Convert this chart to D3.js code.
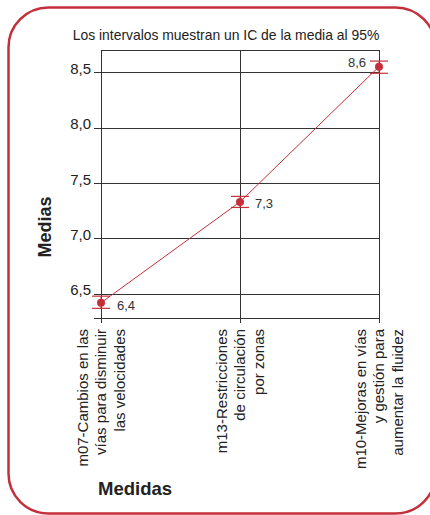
<!DOCTYPE html>
<html>
<head>
<meta charset="utf-8">
<script src="https://cdn.jsdelivr.net/npm/d3@7/dist/d3.min.js"></script>
<style>
  html, body { margin: 0; padding: 0; background: #fff; }
  svg { display: block; }
  text { font-family: "Liberation Sans", Arial, Helvetica, sans-serif; fill: #222; }
</style>
</head>
<body>
<div id="chart"></div>
<script>
// ---- data ----
const categories = ["m07", "m13", "m10"];
const categoryLines = [
  ["m07-Cambios en las", "vías para disminuir", "las velocidades"],
  ["m13-Restricciones", "de circulación", "por zonas"],
  ["m10-Mejoras en vías", "y gestión para", "aumentar la fluidez"]
];
const means = [6.42, 7.33, 8.55];
const ciLower = [6.37, 7.28, 8.49];
const ciUpper = [6.48, 7.38, 8.60];
const valueLabels = ["6,4", "7,3", "8,6"];
const yTicks = [6.5, 7.0, 7.5, 8.0, 8.5];
const yTickLabels = ["6,5", "7,0", "7,5", "8,0", "8,5"];
const title = "Los intervalos muestran un IC de la media al 95%";
const xTitle = "Medidas";
const yTitle = "Medias";

// ---- layout ----
const W = 430, H = 515;
const red = "#c3303b";
const plot = { left: 101, right: 379, top: 50, bottom: 318 };

const svg = d3.select("#chart").append("svg").attr("width", W).attr("height", H);

// frame
svg.append("rect")
  .attr("x", 8.5).attr("y", 7.5).attr("width", 427).attr("height", 506)
  .attr("rx", 40).attr("ry", 40)
  .attr("fill", "none").attr("stroke", red).attr("stroke-width", 2.5);

const x = d3.scalePoint().domain(categories).range([plot.left, plot.right]).padding(0);
const y = d3.scaleLinear().domain([6.283, 8.70]).range([plot.bottom, plot.top]);

// title
svg.append("text")
  .attr("x", 226).attr("y", 40)
  .attr("text-anchor", "middle")
  .style("font-size", "13.9px")
  .text(title);

// horizontal grid lines (ticks + top and bottom)
const g = svg.append("g");
const hLines = [y.domain()[1], ...yTicks, y.domain()[0]];
g.selectAll("line.h").data(hLines).enter().append("line")
  .attr("class", "h")
  .attr("x1", (d, i) => (i === 0 ? plot.left : plot.left - 7))
  .attr("x2", plot.right)
  .attr("y1", d => Math.round(y(d)) + 0.5)
  .attr("y2", d => Math.round(y(d)) + 0.5)
  .attr("stroke", "#333").attr("stroke-width", 1);

// vertical lines at categories
g.selectAll("line.v").data(categories).enter().append("line")
  .attr("class", "v")
  .attr("x1", d => Math.round(x(d)) + 0.5)
  .attr("x2", d => Math.round(x(d)) + 0.5)
  .attr("y1", plot.top)
  .attr("y2", plot.bottom + 5)
  .attr("stroke", "#333").attr("stroke-width", 1);

// y tick labels
svg.selectAll("text.ytick").data(yTicks).enter().append("text")
  .attr("class", "ytick")
  .attr("x", plot.left - 10)
  .attr("y", d => y(d))
  .attr("dy", "0.1em")
  .attr("text-anchor", "end")
  .style("font-size", "15px")
  .text((d, i) => yTickLabels[i]);

// category labels (rotated, 3 lines)
categories.forEach((c, ci) => {
  const t = svg.append("text")
    .attr("transform", `translate(${x(c)},329) rotate(-90)`)
    .attr("text-anchor", "end")
    .style("font-size", "15px");
  categoryLines[ci].forEach((ln, li) => {
    t.append("tspan")
      .attr("x", 0)
      .attr("y", (li - 1) * 18.5)
      .attr("dy", "0.35em")
      .text(ln);
  });
});

// axis titles
svg.append("text")
  .attr("transform", `translate(51,227) rotate(-90)`)
  .attr("text-anchor", "middle")
  .style("font-size", "18px").style("font-weight", "bold")
  .text(yTitle);
svg.append("text")
  .attr("x", 98).attr("y", 495)
  .style("font-size", "18.5px").style("font-weight", "bold")
  .text(xTitle);

// connecting line
const line = d3.line().x((d, i) => x(categories[i])).y(d => y(d));
svg.append("path")
  .attr("d", line(means))
  .attr("fill", "none").attr("stroke", red).attr("stroke-width", 1);

// error bars
const eb = svg.append("g");
categories.forEach((c, i) => {
  const cx = x(c);
  eb.append("line").attr("x1", cx).attr("x2", cx)
    .attr("y1", y(ciLower[i])).attr("y2", y(ciUpper[i]))
    .attr("stroke", red).attr("stroke-width", 1);
  [ciLower[i], ciUpper[i]].forEach(v => {
    eb.append("line").attr("x1", cx - 9).attr("x2", cx + 9)
      .attr("y1", y(v)).attr("y2", y(v))
      .attr("stroke", red).attr("stroke-width", 1.2);
  });
});

// points
svg.selectAll("circle.pt").data(means).enter().append("circle")
  .attr("class", "pt")
  .attr("cx", (d, i) => x(categories[i]))
  .attr("cy", d => y(d))
  .attr("r", 4)
  .attr("fill", red);

// value labels
const labelPos = [
  { dx: 16, dy: 3, anchor: "start" },
  { dx: 15, dy: 1.5, anchor: "start" },
  { dx: -13, dy: -4.5, anchor: "end" }
];
svg.selectAll("text.val").data(means).enter().append("text")
  .attr("class", "val")
  .attr("x", (d, i) => x(categories[i]) + labelPos[i].dx)
  .attr("y", (d, i) => y(d) + labelPos[i].dy)
  .attr("dy", "0.35em")
  .attr("text-anchor", (d, i) => labelPos[i].anchor)
  .style("font-size", "13px")
  .style("fill", "#333")
  .text((d, i) => valueLabels[i]);
</script>
</body>
</html>
